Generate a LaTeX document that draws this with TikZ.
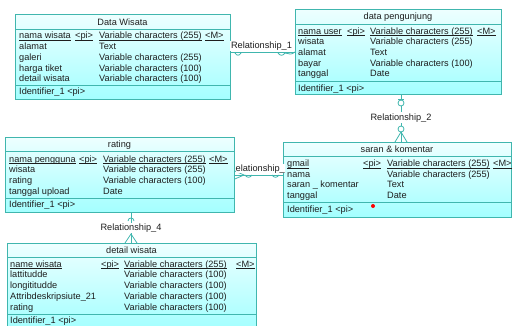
\documentclass[tikz,border=0pt]{standalone}
\usepackage{fontspec}
\setmainfont{Liberation Sans}
\usetikzlibrary{calc, positioning}
\definecolor{erline}{RGB}{64,182,174}
\definecolor{ertext}{RGB}{30,30,30}
\newcommand{\keyul}[1]{\underline{\smash{#1}}}

\begin{document}
\begin{tikzpicture}[x=1pt, y=-1pt,
  tbl/.style={draw=erline, line width=.8pt, top color=cyan!7, bottom color=cyan!36, anchor=north west, inner sep=0pt},
  sep/.style={draw=erline, line width=.8pt},
  ttl/.style={font=\fontsize{9.2}{11}\selectfont, text=ertext, anchor=base, inner sep=0pt},
  att/.style={font=\fontsize{9.2}{11}\selectfont, text=ertext, anchor=base west, inner sep=0pt},
  rel/.style={draw=erline, line width=.8pt},
  rlabel/.style={font=\fontsize{9.2}{11}\selectfont, text=ertext, fill=white, inner sep=1pt}]
  \useasboundingbox (0,0) rectangle (514,325);
  \clip (0,0) rectangle (514,325);

  % Data Wisata
  \node[tbl, minimum width=215pt, minimum height=85pt] (dw) at (15,14) {};
  \draw[sep] (dw.north west) ++(0,15) -- ++(215,0);
  \draw[sep] (dw.north west) ++(0,71) -- ++(215,0);
  \node[ttl] (dw-h) at (122.5,25) {Data Wisata};
  \node[att] (dw-1n) at (19,38.3) {\keyul{nama wisata}};
  \node[att] (dw-1p) at (75,38.3) {\keyul{<pi>}};
  \node[att] (dw-1t) at (99,38.3) {\keyul{Variable characters (255)}};
  \node[att] (dw-1m) at (205,38.3) {\keyul{<M>}};
  \node[att] (dw-2n) at (19,49.2) {alamat};
  \node[att] (dw-2t) at (99,49.2) {Text};
  \node[att] (dw-3n) at (19,60.1) {galeri};
  \node[att] (dw-3t) at (99,60.1) {Variable characters (255)};
  \node[att] (dw-4n) at (19,71) {harga tiket};
  \node[att] (dw-4t) at (99,71) {Variable characters (100)};
  \node[att] (dw-5n) at (19,81.9) {detail wisata};
  \node[att] (dw-5t) at (99,81.9) {Variable characters (100)};
  \node[att] (dw-id) at (19,94) {Identifier\_1 <pi>};

  % data pengunjung
  \node[tbl, minimum width=206pt, minimum height=85pt] (dp) at (295,9) {};
  \draw[sep] (dp.north west) ++(0,15) -- ++(206,0);
  \draw[sep] (dp.north west) ++(0,72) -- ++(206,0);
  \node[ttl] (dp-h) at (398,19.9) {data pengunjung};
  \node[att] (dp-1n) at (298,34.2) {\keyul{nama user}};
  \node[att] (dp-1p) at (347,34.2) {\keyul{<pi>}};
  \node[att] (dp-1t) at (370,34.2) {\keyul{Variable characters (255)}};
  \node[att] (dp-1m) at (477,34.2) {\keyul{<M>}};
  \node[att] (dp-2n) at (298,44.8) {wisata};
  \node[att] (dp-2t) at (370,44.8) {Variable characters (255)};
  \node[att] (dp-3n) at (298,55.4) {alamat};
  \node[att] (dp-3t) at (370,55.4) {Text};
  \node[att] (dp-4n) at (298,66) {bayar};
  \node[att] (dp-4t) at (370,66) {Variable characters (100)};
  \node[att] (dp-5n) at (298,76.6) {tanggal};
  \node[att] (dp-5t) at (370,76.6) {Date};
  \node[att] (dp-id) at (298,91) {Identifier\_1 <pi>};

  % rating
  \node[tbl, minimum width=229pt, minimum height=75pt] (rt) at (5,137) {};
  \draw[sep] (rt.north west) ++(0,14) -- ++(229,0);
  \draw[sep] (rt.north west) ++(0,61) -- ++(229,0);
  \node[ttl] (rt-h) at (119.5,147.5) {rating};
  \node[att] (rt-1n) at (9,162.2) {\keyul{nama pengguna}};
  \node[att] (rt-1p) at (79,162.2) {\keyul{<pi>}};
  \node[att] (rt-1t) at (103,162.2) {\keyul{Variable characters (255)}};
  \node[att] (rt-1m) at (209,162.2) {\keyul{<M>}};
  \node[att] (rt-2n) at (9,172.8) {wisata};
  \node[att] (rt-2t) at (103,172.8) {Variable characters (255)};
  \node[att] (rt-3n) at (9,183.4) {rating};
  \node[att] (rt-3t) at (103,183.4) {Variable characters (100)};
  \node[att] (rt-4n) at (9,194) {tanggal upload};
  \node[att] (rt-4t) at (103,194) {Date};
  \node[att] (rt-id) at (9,207.5) {Identifier\_1 <pi>};

  % saran & komentar
  \node[tbl, minimum width=228pt, minimum height=75pt] (sk) at (283,142) {};
  \draw[sep] (sk.north west) ++(0,14) -- ++(228,0);
  \draw[sep] (sk.north west) ++(0,60) -- ++(228,0);
  \node[ttl] (sk-h) at (397,152.5) {saran \& komentar};
  \node[att] (sk-1n) at (287,166.5) {\keyul{gmail}};
  \node[att] (sk-1p) at (363,166.5) {\keyul{<pi>}};
  \node[att] (sk-1t) at (387,166.5) {\keyul{Variable characters (255)}};
  \node[att] (sk-1m) at (493,166.5) {\keyul{<M>}};
  \node[att] (sk-2n) at (287,177) {nama};
  \node[att] (sk-2t) at (387,177) {Variable characters (255)};
  \node[att] (sk-3n) at (287,187.6) {saran \_ komentar};
  \node[att] (sk-3t) at (387,187.6) {Text};
  \node[att] (sk-4n) at (287,198.2) {tanggal};
  \node[att] (sk-4t) at (387,198.2) {Date};
  \node[att] (sk-id) at (287,212.2) {Identifier\_1 <pi>};
  \node[fill=red, circle, inner sep=0pt, minimum size=4pt] (dot) at (373,206) {};

  % detail wisata
  \node[tbl, minimum width=249pt, minimum height=86pt] (dt) at (7,243) {};
  \draw[sep] (dt.north west) ++(0,14) -- ++(249,0);
  \draw[sep] (dt.north west) ++(0,71) -- ++(249,0);
  \node[ttl] (dt-h) at (131.5,253.2) {detail wisata};
  \node[att] (dt-1n) at (10,267.2) {\keyul{name wisata}};
  \node[att] (dt-1p) at (101,267.2) {\keyul{<pi>}};
  \node[att] (dt-1t) at (124,267.2) {\keyul{Variable characters (255)}};
  \node[att] (dt-1m) at (236,267.2) {\keyul{<M>}};
  \node[att] (dt-2n) at (10,277.9) {lattitudde};
  \node[att] (dt-2t) at (124,277.9) {Variable characters (100)};
  \node[att] (dt-3n) at (10,288.6) {longititudde};
  \node[att] (dt-3t) at (124,288.6) {Variable characters (100)};
  \node[att] (dt-4n) at (10,299.3) {Attribdeskripsiute\_21};
  \node[att] (dt-4t) at (124,299.3) {Variable characters (100)};
  \node[att] (dt-5n) at (10,310) {rating};
  \node[att] (dt-5t) at (124,310) {Variable characters (100)};
  \node[att] (dt-id) at (10,323.2) {Identifier\_1 <pi>};

  % Relationship_1
  \coordinate (r1a) at (dp.west -| dw.east);
  \draw[rel] (r1a) -- (dp.west);
  \node[rlabel] (r1) at (261.5,46) {Relationship\_1};
  \draw[rel] (235,53) .. controls (237,56) and (239,56) .. (241,53);
  \draw[rel] (278,53) .. controls (280,56) and (283,56) .. (285,53) -- (290,54) .. controls (292,54) .. (dp.west);

  % Relationship_2
  \coordinate (r2) at (401,0);
  \draw[rel] (dp.south -| r2) -- (sk.north -| r2);
  \draw[rel] (398,99) -- (404,99);
  \draw[rel, fill=white] (401,103) circle (3pt);
  \node[rlabel] (r2l) at (401,117.7) {Relationship\_2};
  \draw[rel, fill=white] (401,129) circle (3pt);
  \draw[rel] (sk.north -| 395,0) -- (401,132) -- (sk.north -| 407,0);

  % Relationship_3
  \coordinate (r3a) at (rt.east |- 0,175);
  \draw[rel] (r3a) -- (r3a -| sk.west);
  \draw[rel] (rt.east |- 0,171) -- (244,175) -- (rt.east |- 0,179);
  \node[rlabel, anchor=base west, inner sep=0pt] (r3) at (235.5,171) {elationship\_};
  \draw[rel] (245,175) .. controls (247,178) and (250,178) .. (252,175);
  \draw[rel] (272,175) .. controls (274,178) and (277,178) .. (279,175);

  % Relationship_4
  \coordinate (r4) at (131,0);
  \draw[rel] (rt.south -| r4) -- (dt.north -| r4);
  \draw[rel] (128,221) .. controls (128,217) and (134,217) .. (134,221);
  \node[rlabel] (r4l) at (131,228) {Relationship\_4};
  \draw[rel] (dt.north -| 125,0) -- (131,234) -- (dt.north -| 137,0);
\end{tikzpicture}
\end{document}
